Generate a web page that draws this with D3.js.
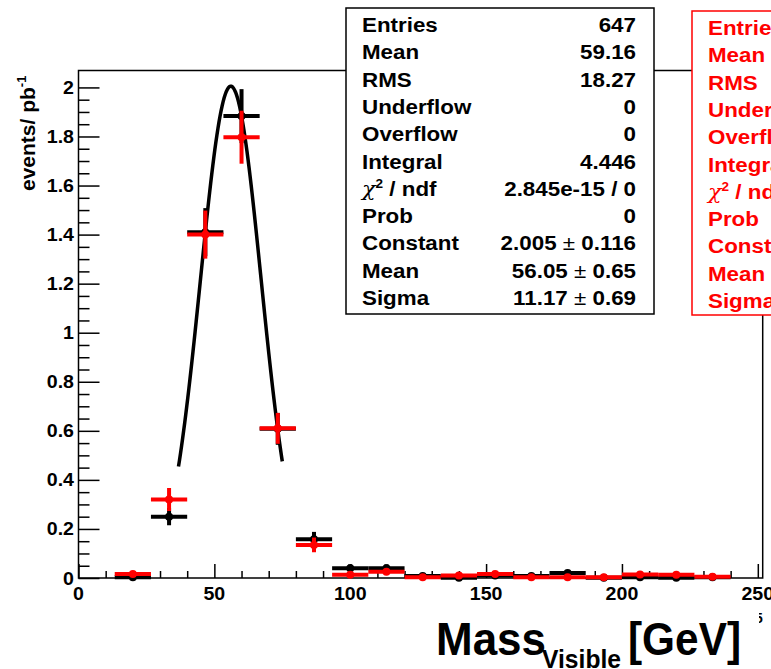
<!DOCTYPE html>
<html>
<head>
<meta charset="utf-8">
<script src="https://cdn.jsdelivr.net/npm/d3@7"></script>
<style>
  body { margin: 0; background: #fff; }
  svg { display: block; font-family: "Liberation Sans", Arial, Helvetica, sans-serif; font-weight: bold; }
</style>
</head>
<body>
<svg id="chart" width="771" height="669"></svg>
<script>
// Histogram bins (centres, GeV) — 13.33 GeV wide bins
const binCenters = [20, 33.33, 46.67, 60, 73.33, 86.67, 100, 113.33, 126.67, 140, 153.33, 166.67, 180, 193.33, 206.67, 220, 233.33];
const binHalfWidth = 6.667;

// Black histogram (fitted) and its errors
const blackValues = [0.003, 0.25, 1.41, 1.883, 0.608, 0.158, 0.04, 0.04, 0.008, 0.001, 0.01, 0.008, 0.02, 0.001, 0.003, 0.001, 0.003];
const blackErrors = [0.006, 0.035, 0.098, 0.11, 0.065, 0.03, 0.016, 0.016, 0.007, 0.003, 0.008, 0.007, 0.01, 0.003, 0.004, 0.003, 0.004];

// Red histogram and its errors
const redValues = [0.016, 0.32, 1.40, 1.797, 0.61, 0.135, 0.013, 0.025, 0.003, 0.01, 0.016, 0.003, 0.003, 0.003, 0.014, 0.013, 0.005];
const redErrors = [0.01, 0.047, 0.098, 0.108, 0.063, 0.03, 0.01, 0.013, 0.004, 0.008, 0.01, 0.004, 0.004, 0.004, 0.009, 0.009, 0.005];

// Gaussian fit to the black histogram
const fitConstant = 2.005;
const fitMean = 56.05;
const fitSigma = 11.17;
const fitRange = [36.8, 75.0];

// Axis ticks
const xMajorTicks = [0, 50, 100, 150, 200, 250];
const yMajorTicks = [0, 0.2, 0.4, 0.6, 0.8, 1, 1.2, 1.4, 1.6, 1.8, 2];
const yTickLabels = ["0", "0.2", "0.4", "0.6", "0.8", "1", "1.2", "1.4", "1.6", "1.8", "2"];

// Statistics box content
const statLabels = ["Entries", "Mean", "RMS", "Underflow", "Overflow", "Integral", "CHI", "Prob", "Constant", "Mean", "Sigma"];
const statValues = ["647", "59.16", "18.27", "0", "0", "4.446", "2.845e-15 / 0", "0", "2.005|0.116", "56.05|0.65", "11.17|0.69"];

const svg = d3.select("#chart");

const frame = { left: 78.5, right: 762.7, top: 70.5, bottom: 578 };
const x = d3.scaleLinear().domain([0, 251.8]).range([frame.left, frame.right]);
const y = d3.scaleLinear().domain([0, 2.069]).range([frame.bottom, frame.top]);

// Frame
svg.append("rect")
  .attr("x", frame.left).attr("y", frame.top)
  .attr("width", frame.right - frame.left).attr("height", frame.bottom - frame.top)
  .attr("fill", "none").attr("stroke", "#000").attr("stroke-width", 1.5);

// X axis: major every 50, minor every 10
const xMinor = d3.range(0, 251, 10).filter(v => v % 50 !== 0);
const xAxis = svg.append("g").attr("transform", `translate(0,${frame.bottom})`)
  .call(d3.axisTop(x).tickValues(xMajorTicks).tickSize(14).tickFormat(""));
xAxis.select(".domain").remove();
xAxis.selectAll("line").attr("stroke", "#000").attr("stroke-width", 1.5);
const xAxisMinor = svg.append("g").attr("transform", `translate(0,${frame.bottom})`)
  .call(d3.axisTop(x).tickValues(xMinor).tickSize(7).tickFormat(""));
xAxisMinor.select(".domain").remove();
xAxisMinor.selectAll("line").attr("stroke", "#000").attr("stroke-width", 1.5);

svg.append("g").selectAll("text").data(xMajorTicks).join("text")
  .attr("transform", d => `translate(${x(d)},599.5) scale(1.12,1)`)
  .attr("text-anchor", "middle")
  .attr("font-size", 17.5)
  .text(d => d);

// Y axis: major every 0.2, minor every 0.05
const yMinor = d3.range(0, 41).map(i => i * 0.05).filter((v, i) => i % 4 !== 0 && v <= 2.069);
const yAxis = svg.append("g").attr("transform", `translate(${frame.left},0)`)
  .call(d3.axisRight(y).tickValues(yMajorTicks).tickSize(21).tickFormat(""));
yAxis.select(".domain").remove();
yAxis.selectAll("line").attr("stroke", "#000").attr("stroke-width", 1.5);
const yAxisMinor = svg.append("g").attr("transform", `translate(${frame.left},0)`)
  .call(d3.axisRight(y).tickValues(yMinor).tickSize(11).tickFormat(""));
yAxisMinor.select(".domain").remove();
yAxisMinor.selectAll("line").attr("stroke", "#000").attr("stroke-width", 1.5);

svg.append("g").selectAll("text").data(yMajorTicks).join("text")
  .attr("transform", d => `translate(74,${y(d) + 6.5}) scale(1.12,1)`)
  .attr("text-anchor", "end")
  .attr("font-size", 17.5)
  .text((d, i) => yTickLabels[i]);

// Y axis title
svg.append("text")
  .attr("transform", "translate(35,191) rotate(-90)")
  .attr("font-size", 21)
  .call(t => {
    t.append("tspan").text("events/ pb");
    t.append("tspan").attr("font-size", 13).attr("dy", -9).text("-1");
  });

// X axis title
svg.append("text").attr("x", 436).attr("y", 655).attr("font-size", 46)
  .attr("textLength", 110).attr("lengthAdjust", "spacingAndGlyphs").text("Mass");
svg.append("text").attr("x", 542).attr("y", 668).attr("font-size", 26)
  .attr("textLength", 79).attr("lengthAdjust", "spacingAndGlyphs").text("Visible");
svg.append("text").attr("x", 628).attr("y", 655).attr("font-size", 46)
  .attr("textLength", 113).attr("lengthAdjust", "spacingAndGlyphs").text("[GeV]");

// stray exponent fragment at the axis end
svg.append("clipPath").attr("id", "fragClip")
  .append("rect").attr("x", 759).attr("y", 600).attr("width", 12).attr("height", 40);
svg.append("text").attr("clip-path", "url(#fragClip)")
  .attr("x", 755).attr("y", 623).attr("font-size", 14).text("5");

// Histogram with error crosses
function drawHist(values, errors, color) {
  const g = svg.append("g").attr("stroke", color).attr("fill", color);
  const data = binCenters.map((c, i) => ({ c, v: values[i], e: errors[i] }));
  g.selectAll("line.h").data(data).join("line").attr("class", "h")
    .attr("x1", d => x(d.c - binHalfWidth)).attr("x2", d => x(d.c + binHalfWidth))
    .attr("y1", d => y(d.v)).attr("y2", d => y(d.v))
    .attr("stroke-width", 4);
  g.selectAll("line.v").data(data.filter(d => d.e > 0)).join("line").attr("class", "v")
    .attr("x1", d => x(d.c)).attr("x2", d => x(d.c))
    .attr("y1", d => y(d.v - d.e)).attr("y2", d => y(d.v + d.e))
    .attr("stroke-width", 4);
  g.selectAll("circle").data(data).join("circle")
    .attr("cx", d => x(d.c)).attr("cy", d => y(d.v)).attr("r", 4)
    .attr("stroke", "none");
}

drawHist(blackValues, blackErrors, "#000");

// Gaussian fit curve
const gauss = v => fitConstant * Math.exp(-0.5 * Math.pow((v - fitMean) / fitSigma, 2));
const fitPts = d3.range(0, 101).map(i => fitRange[0] + (fitRange[1] - fitRange[0]) * i / 100);
svg.append("path")
  .attr("d", d3.line().x(v => x(v)).y(v => y(gauss(v)))(fitPts))
  .attr("fill", "none").attr("stroke", "#000").attr("stroke-width", 3.5);

drawHist(redValues, redErrors, "#ff0000");

// Statistics boxes
function statBox(bx, by, bw, bh, color) {
  svg.append("rect").attr("x", bx).attr("y", by).attr("width", bw).attr("height", bh)
    .attr("fill", "#fff").attr("stroke", color).attr("stroke-width", 1.5);
  const step = 27.3;
  statLabels.forEach((lab, i) => {
    const by0 = by + 24 + i * step;
    const t = svg.append("text")
      .attr("transform", `translate(${bx + 16},${by0}) scale(1.13,1)`)
      .attr("font-size", 19.8).attr("fill", color);
    if (lab === "CHI") {
      t.append("tspan").attr("font-family", "'DejaVu Serif', 'Liberation Serif', serif")
        .attr("font-weight", "normal").attr("font-style", "italic").text("χ");
      t.append("tspan").attr("font-size", 12).attr("dy", -8).text("2");
      t.append("tspan").attr("dy", 8).text(" / ndf");
    } else {
      t.text(lab);
    }
    const val = statValues[i];
    const vt = svg.append("text")
      .attr("transform", `translate(${bx + 290},${by0}) scale(1.13,1)`)
      .attr("text-anchor", "end")
      .attr("font-size", 19.8).attr("fill", color);
    if (val.includes("|")) {
      const [a, b] = val.split("|");
      vt.append("tspan").text(a + " ");
      vt.append("tspan").attr("font-weight", "normal").text("±");
      vt.append("tspan").text(" " + b);
    } else {
      vt.text(val);
    }
  });
}

statBox(346, 8, 308, 306, "#000");
statBox(692, 11, 308, 304, "#ff0000");
</script>
</body>
</html>
